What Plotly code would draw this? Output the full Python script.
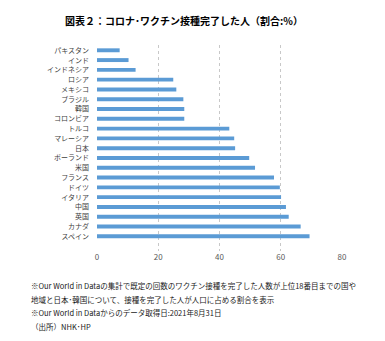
import plotly.graph_objects as go

countries = ["パキスタン", "インド", "インドネシア", "ロシア", "メキシコ", "ブラジル", "韓国", "コロンビア",
             "トルコ", "マレーシア", "日本", "ポーランド", "米国", "フランス", "ドイツ", "イタリア",
             "中国", "英国", "カナダ", "スペイン"]
values = [7.4, 10.3, 12.6, 24.9, 25.9, 28.2, 28.5, 28.5,
          43.2, 44.8, 45.1, 49.7, 51.6, 57.8, 59.7, 60.1,
          61.7, 62.6, 66.5, 69.4]
x_ticks = [0, 20, 40, 60, 80]

title = "図表２：コロナ･ワクチン接種完了した人（割合:%）"
notes = [
    "※Our World in Dataの集計で既定の回数のワクチン接種を完了した人数が上位18番目までの国や",
    "地域と日本･韓国について、接種を完了した人が人口に占める割合を表示",
    "※Our World in Dataからのデータ取得日:2021年8月31日",
    "（出所）NHK･HP",
]

FONT = "Noto Sans CJK JP"

fig = go.Figure(go.Bar(
    x=values, y=countries, orientation="h",
    marker=dict(color="#5B9BD5", line=dict(width=0)),
    width=0.4,
))

L, R, T, B = 96.5, 42.7, 45, 90
W, H = 385, 341
pw = W - L - R
ph = H - T - B

fig.update_layout(
    width=W, height=H,
    margin=dict(l=L, r=R, t=T, b=B, pad=0),
    paper_bgcolor="white", plot_bgcolor="white",
    showlegend=False,
    font=dict(family=FONT, color="#404040"),
    xaxis=dict(range=[0, 80], tickvals=x_ticks, showgrid=True,
               gridcolor="#C8C8C8", griddash="dot", gridwidth=1,
               zeroline=False, showline=False, ticks="",
               tickfont=dict(size=8, color="#595959", family=FONT),
               fixedrange=True),
    yaxis=dict(type="category", categoryorder="array", categoryarray=countries,
               range=[20.5, -0.54], autorange=False,
               showgrid=False, zeroline=False, showline=False, ticks="",
               ticklabelstandoff=7,
               tickfont=dict(size=7, color="#404040", family=FONT),
               fixedrange=True),
)

annotations = [dict(
    text="<b>" + title + "</b>", xref="paper", yref="paper",
    x=(183.5 - L) / pw, y=(H - B - 20) / ph, xanchor="center", yanchor="middle",
    showarrow=False, font=dict(size=10, color="#000000", family=FONT),
)]
note_y = [285.7, 299.3, 312.7, 326.7]
for t, yy in zip(notes, note_y):
    annotations.append(dict(
        text=t, xref="paper", yref="paper",
        x=(28 - L) / pw, y=(H - B - yy) / ph, xanchor="left", yanchor="middle",
        showarrow=False, font=dict(size=7.5, color="#1a1a1a", family=FONT),
    ))
fig.update_layout(annotations=annotations)

fig.write_html("out.html")
